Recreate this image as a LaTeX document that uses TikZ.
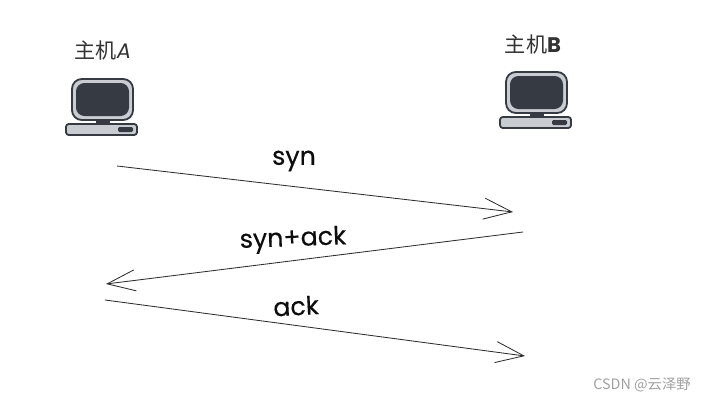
\documentclass[tikz,border=0pt]{standalone}
\usepackage{fontspec}
\setmainfont{Poppins}
\newfontfamily\msgfont{Poppins}[FakeBold=0.4]
\newfontfamily\cjk{Noto Sans CJK SC}
\usetikzlibrary{arrows.meta,positioning}
\definecolor{pcDark}{HTML}{363A42}
\definecolor{pcLight}{HTML}{C9CDD2}
\definecolor{lineGrey}{HTML}{2E2E2E}
\definecolor{markGrey}{HTML}{A0A0A0}

\begin{document}
\begin{tikzpicture}[
    x=0.025cm, y=-0.025cm,
    hostlabel/.style={font=\cjk\fontsize{15}{17}\selectfont, text=black!80, inner sep=0pt},
    msglabel/.style={font=\msgfont\fontsize{18}{20}\selectfont, text=black!95, inner sep=0pt},
    arr/.style={-{Straight Barb[length=20pt,width=15pt,line width=0.6pt]}, lineGrey, line width=0.6pt},
    pcpart/.style={draw=pcDark, line width=1.3pt},
    computer/.pic={
      \filldraw[pcpart, fill=pcLight, rounded corners=7pt] (0,0) rectangle (61,41);
      \fill[pcDark, rounded corners=6pt] (4,4) rectangle (57,37);
      \fill[pcDark] (24,41) rectangle (38,46);
      \filldraw[pcpart, fill=pcLight, rounded corners=2pt] (-6,45) rectangle (65,56);
      \fill[pcDark, rounded corners=1pt] (46,48) rectangle (61,53);
    },
  ]
  \useasboundingbox (0,0) rectangle (707,401);

  \pic (pcA) at (72,79) {computer};
  \pic (pcB) at (506,72) {computer};
  \node[hostlabel] (hostA) at (103,50) {主机{\rmfamily\itshape A}};
  \node[hostlabel] (hostB) at (533,44) {主机{\rmfamily\bfseries B}};

  \coordinate (a1) at (117,166);
  \coordinate (b1) at (513,212);
  \coordinate (b2) at (523,232);
  \coordinate (a2) at (106,284);
  \coordinate (a3) at (105,300);
  \coordinate (b3) at (525,356);

  \draw[arr] (a1) -- (b1);
  \draw[arr] (b2) -- (a2);
  \draw[arr] (a3) -- (b3);

  \node[msglabel] (syn) at (294,161) {syn};
  \node[msglabel, rotate=2] (synack) at (293,240) {syn+ack};
  \node[msglabel, rotate=3] (ack) at (296,306) {ack};

  \node[font=\cjk\fontsize{10.2}{12}\selectfont, text=markGrey, inner sep=0pt] (mark) at (642,385) {CSDN @云泽野};
\end{tikzpicture}
\end{document}
